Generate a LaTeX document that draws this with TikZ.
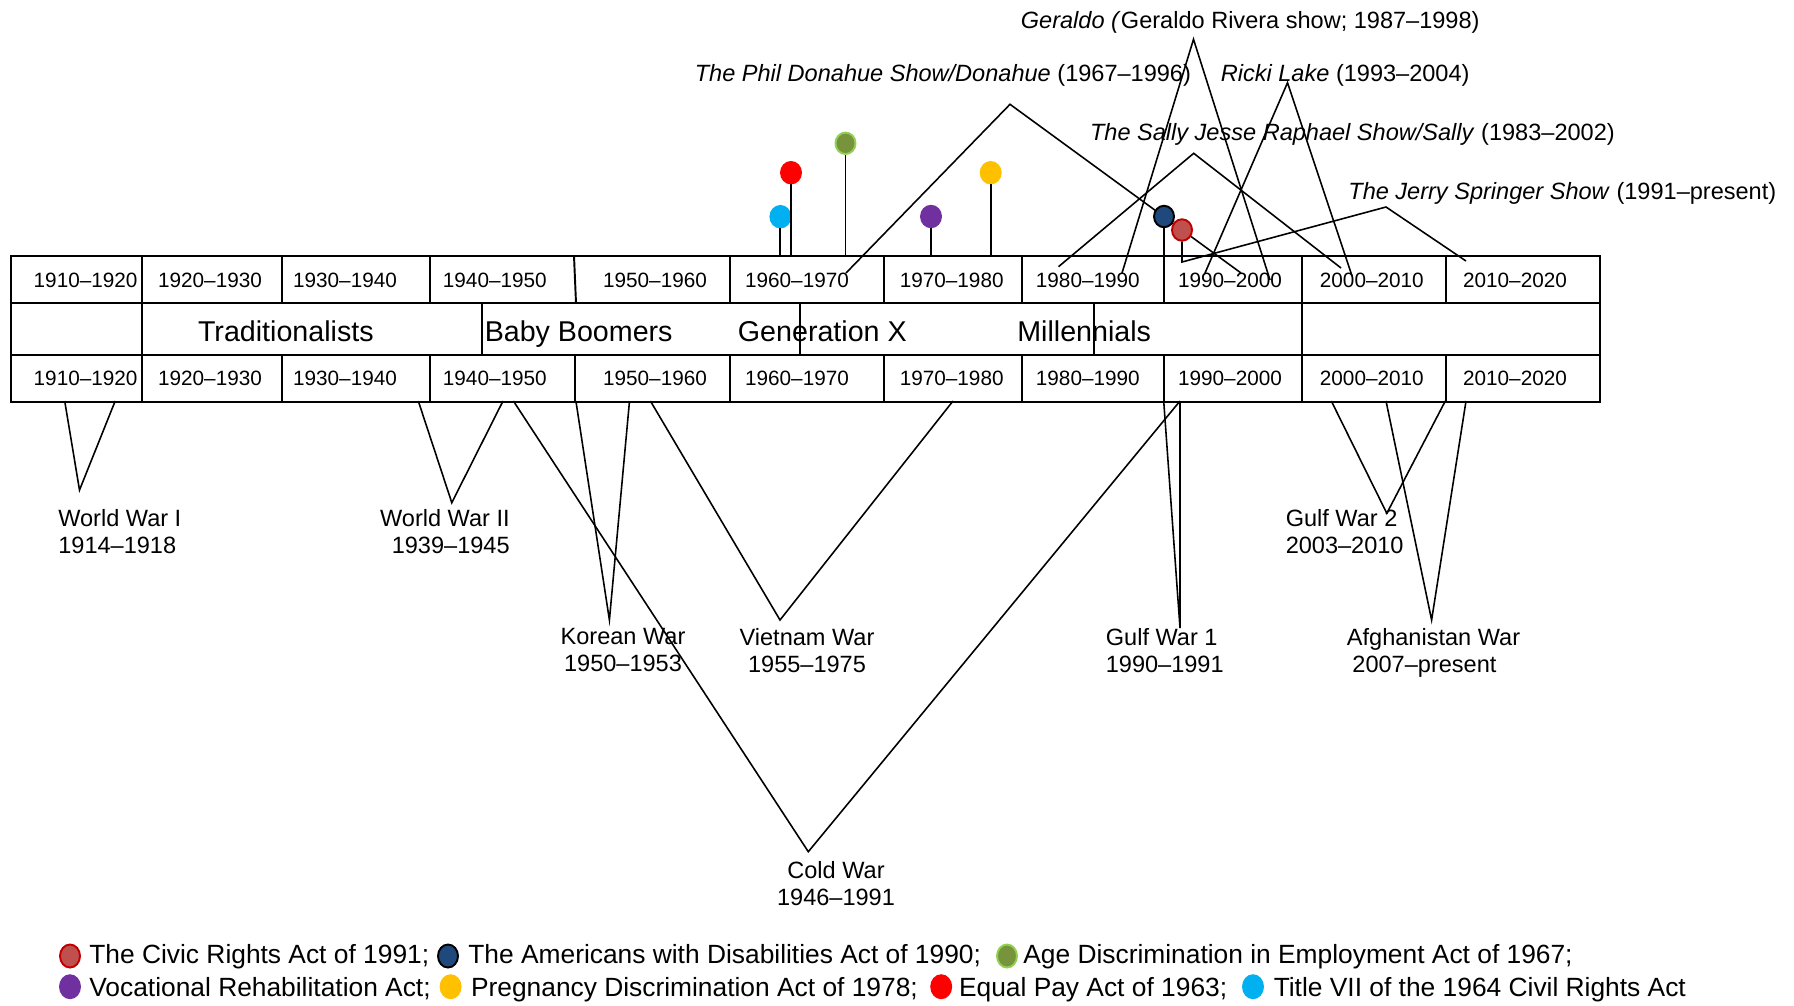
\documentclass[tikz,border=0pt]{standalone}
\usepackage{fontspec}
\setmainfont{Liberation Sans}
\usetikzlibrary{shapes.geometric}

\definecolor{civic}{HTML}{C0504D}
\definecolor{civicline}{HTML}{C00000}
\definecolor{ada}{HTML}{1F497D}
\definecolor{adea}{HTML}{77933C}
\definecolor{adealine}{HTML}{92D050}
\definecolor{voc}{HTML}{7030A0}
\definecolor{preg}{HTML}{FFC000}
\definecolor{equalpay}{HTML}{FF0000}
\definecolor{titlevii}{HTML}{00B0F0}

\tikzset{
  tabframe/.style={line width=1.3pt},
  tabline/.style={line width=1.1pt},
  conn/.style={line width=0.9pt},
  stem/.style={line width=1.1pt},
  yr/.style={inner sep=0pt, anchor=base, font=\fontsize{11.8}{14}\selectfont},
  gen/.style={inner sep=0pt, anchor=base west, font=\fontsize{16.3}{19}\selectfont},
  lbl/.style={inner sep=0pt, font=\fontsize{13.4}{15.5}\selectfont},
  legtext/.style={inner sep=0pt, anchor=base west, font=\fontsize{15}{18}\selectfont},
  dotbase/.style={ellipse, inner sep=0pt, line width=1.1pt, minimum width=0.4cm, minimum height=0.43cm},
  actdot/.style 2 args={dotbase, fill=#1, draw=#2},
  legdot/.style 2 args={dotbase, minimum height=0.46cm, fill=#1, draw=#2},
}

\begin{document}
\begin{tikzpicture}[x=0.02cm, y=-0.02cm]
    \useasboundingbox (0,0) rectangle (1794,1005);
    \coordinate (ttop) at (0,256);
    \coordinate (tbot) at (0,401);

    % timeline table
    \draw[tabframe] (11,256) rectangle (1600,402);
    \draw[tabframe] (11,303) -- (1600,303) (11,355) -- (1600,355);
    \foreach \x in {142,282,430,730,884,1022,1164,1302,1446}
        \draw[tabline] (\x,256) -- (\x,303) (\x,355) -- (\x,402);
    \draw[tabline] (574,256) -- (576,303) (575,355) -- (575,402);
    \foreach \x in {142,482,800,1094,1302}
        \draw[tabline] (\x,303) -- (\x,355);

    \foreach \c/\t [count=\i] in {85.6/1910--1920, 210/1920--1930, 345/1930--1940,
        494.8/1940--1950, 655/1950--1960, 797/1960--1970, 951.7/1970--1980,
        1087.8/1980--1990, 1230/1990--2000, 1371.8/2000--2010, 1515/2010--2020}{
        \node[yr] (dtop\i) at (\c,287.7) {\t};
        \node[yr] (dbot\i) at (\c,385) {\t};
    }

    \node[gen] (trad) at (197.7,341.7) {Traditionalists};
    \node[gen] (boom) at (484.4,341.7) {Baby Boomers};
    \node[gen] (genx) at (737.6,341.7) {Generation X};
    \node[gen] (mill) at (1017,341.7) {Millennials};

    % talk shows
    \node[lbl, anchor=base west] (geraldo) at (1020.5,28.3) {\textit{Geraldo (}Geraldo Rivera show; 1987--1998)};
    \node[lbl, anchor=base west] (donahue) at (694.5,81.7) {\textit{The Phil Donahue Show/Donahue} (1967--1996)};
    \node[lbl, anchor=base west] (ricki) at (1220.5,81.7) {\textit{Ricki Lake} (1993--2004)};
    \node[lbl, anchor=base west] (sally) at (1089.7,140) {\textit{The Sally Jesse Raphael Show/Sally} (1983--2002)};
    \node[lbl, anchor=base west] (jerry) at (1348,199.3) {\textit{The Jerry Springer Show} (1991--present)};

    \foreach \n/\ax/\ay/\lx/\ly/\rx/\ry in {geraldo/1193.5/39.3/1122/273/1270/280,
        donahue/1010/104.3/846/273/1241/273, ricki/1287.5/82.7/1205/273/1352/276,
        sally/1193.7/153.3/1058.5/266.7/1341/268}{
        \coordinate (\n-top) at (\ax,\ay);
        \coordinate (\n-l) at (\lx,\ly);
        \coordinate (\n-r) at (\rx,\ry);
        \draw[conn] (\n-l) -- (\n-top) -- (\n-r);
    }
    \coordinate (jerry-top) at (1386,207);
    \coordinate (jerry-foot) at (1182,262);
    \coordinate (jerry-r) at (1466,261);

    % acts
    \node[actdot={titlevii}{titlevii}] (ptitle) at (780.4,216.7) {};
    \node[actdot={equalpay}{equalpay}] (pequal) at (791,172.7) {};
    \node[actdot={adea}{adealine}] (padea) at (845.5,143.3) {};
    \node[actdot={voc}{voc}] (pvoc) at (931,216.5) {};
    \node[actdot={preg}{preg}] (ppreg) at (990.7,172.7) {};
    \node[actdot={ada}{black}] (pada) at (1164,216.5) {};
    \node[actdot={civic}{civicline}] (pcivic) at (1182,230) {};
    \foreach \p in {ptitle,pequal,padea,pvoc,ppreg,pada}
        \draw[stem] (\p) -- (\p |- ttop);
    \draw[conn] (pcivic) -- (pcivic |- jerry-foot) -- (jerry-top) -- (jerry-r);

    % wars
    \node[lbl, anchor=north west, align=left] (ww1) at (58,509) {World War I\\1914--1918};
    \node[lbl, anchor=north east, align=right] (ww2) at (510,509) {World War II\\1939--1945};
    \node[lbl, anchor=north, align=center] (korea) at (623,628) {Korean War\\1950--1953};
    \node[lbl, anchor=north, align=center] (vietnam) at (807,628) {Vietnam War\\1955--1975};
    \node[lbl, anchor=north west, align=left] (gulf1) at (1105.5,628) {Gulf War 1\\1990--1991};
    \node[lbl, anchor=north west, align=left] (gulf2) at (1285.4,509) {Gulf War 2\\2003--2010};
    \node[lbl, anchor=north west, align=left] (afghan) at (1346.6,628) {Afghanistan War\\\hspace*{0.11cm}2007--present};
    \node[lbl, anchor=north, align=center] (cold) at (836,861.3) {Cold War\\1946--1991};

    \foreach \n/\ax/\ay/\lx/\rx in {ww1/79.5/490/64.7/115.2, ww2/451.8/502.7/418.3/503,
        korea/609.4/620/575.9/629.5, vietnam/780/620/650.4/953,
        cold/808.3/851.7/513.4/1180, gulf1/1180/628/1163.7/1180,
        gulf2/1386.8/513.3/1331.3/1445.3, afghan/1431.6/620/1386/1466}{
        \coordinate (\n-tip) at (\ax,\ay);
        \coordinate (\n-a) at (\lx,401);
        \coordinate (\n-b) at (\rx,401);
        \draw[conn] (\n-a) -- (\n-tip) -- (\n-b);
    }

    % legend
    \node[legdot={civic}{civicline}] (lcivic) at (70,956) {};
    \node[legtext] (tcivic) at (89,963.3) {The Civic Rights Act of 1991;};
    \node[legdot={ada}{black}] (lada) at (448,956) {};
    \node[legtext] (tada) at (468,963.3) {The Americans with Disabilities Act of 1990;};
    \node[legdot={adea}{adealine}] (ladea) at (1007,956) {};
    \node[legtext] (tadea) at (1023,963.3) {Age Discrimination in Employment Act of 1967;};
    \node[legdot={voc}{voc}] (lvoc) at (70,986.7) {};
    \node[legtext] (tvoc) at (89,996) {Vocational Rehabilitation Act;};
    \node[legdot={preg}{preg}] (lpreg) at (450.6,986.7) {};
    \node[legtext] (tpreg) at (470.7,996) {Pregnancy Discrimination Act of 1978;};
    \node[legdot={equalpay}{equalpay}] (lequal) at (941.2,986.7) {};
    \node[legtext] (tequal) at (958.7,996) {Equal Pay Act of 1963;};
    \node[legdot={titlevii}{titlevii}] (ltitle) at (1253,986.7) {};
    \node[legtext] (ttitle) at (1273.4,996) {Title VII of the 1964 Civil Rights Act};
\end{tikzpicture}
\end{document}
